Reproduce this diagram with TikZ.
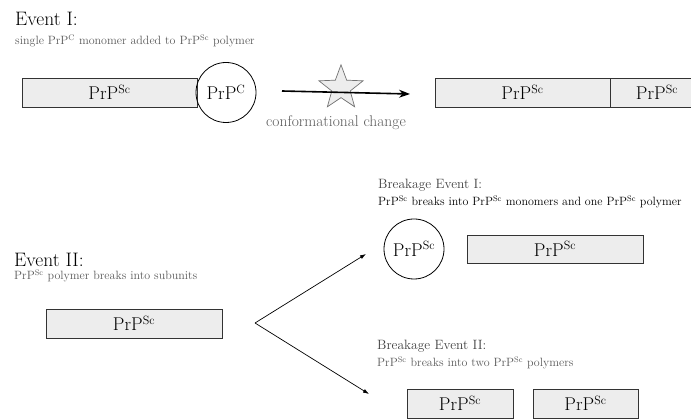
\documentclass[tikz,border=0pt]{standalone}
\usetikzlibrary{shapes.geometric,arrows.meta}
\begin{document}
\begin{tikzpicture}[x=1pt,y=-1pt,
  head/.style={anchor=base west,inner sep=0pt,font=\fontsize{19.5}{22}\selectfont,text=black},
  sub/.style={anchor=base west,inner sep=0pt,font=\fontsize{12}{14}\selectfont,text=black!65},
  bhead/.style={anchor=base west,inner sep=0pt,font=\fontsize{13.5}{16}\selectfont,text=black!75},
  poly/.style={draw=black!80,line width=0.9pt,fill=black!7,rectangle,minimum height=29pt,inner sep=0pt,font=\fontsize{18.5}{22}\selectfont},
  mono/.style={draw=black,line width=0.8pt,circle,minimum size=60pt,inner sep=0pt,font=\fontsize{18.5}{22}\selectfont},
  thinarrow/.style={draw=black,line width=0.7pt,-{Latex[length=6pt,width=4pt]}}
]
\useasboundingbox (0,0) rectangle (691,419);
% Event I
\node[head] (evI) at (15,26) {Event I:};
\node[sub] (evIsub) at (15,45) {single PrP$^{\mathrm{C}}$ monomer added to PrP$^{\mathrm{Sc}}$ polymer};
\node[poly,minimum width=175pt] (boxA) at (109.5,92.5) {PrP$^{\mathrm{Sc}}$};
\node[mono] (circC) at (226,92.5) {PrP$^{\mathrm{C}}$};
\node[star,star points=5,star point ratio=2.4,minimum size=46.4pt,inner sep=0pt,draw=black!55,fill=black!7,line width=0.7pt] (st) at (341,88) {};
\coordinate (arrS) at (282,91);
\coordinate (arrE) at (410,94);
\draw[line width=1.6pt,-{Stealth[length=11pt,width=8pt]}] (arrS) -- (arrE);
\node[anchor=base,inner sep=0pt,font=\fontsize{15.5}{18}\selectfont,text=black!65] (conf) at (336,127) {conformational change};
\node[poly,minimum width=175pt] (boxB) at (522.5,92.5) {PrP$^{\mathrm{Sc}}$};
\node[poly,minimum width=94pt] (boxC) at (657,92.5) {PrP$^{\mathrm{Sc}}$};
% Event II
\node[head] (evII) at (14,267) {Event II:};
\node[sub] (evIIsub) at (14,280) {PrP$^{\mathrm{Sc}}$ polymer breaks into subunits};
\node[poly,minimum width=176pt] (boxD) at (134,323.5) {PrP$^{\mathrm{Sc}}$};
\coordinate (split) at (255,323);
\coordinate (endI) at (366,254);
\coordinate (endII) at (369,394);
\draw[thinarrow] (split) -- (endI);
\draw[thinarrow] (split) -- (endII);
% Breakage Event I
\node[bhead] (bkI) at (378,189) {Breakage Event I:};
\node[sub,text=black] (bkIsub) at (378,206) {PrP$^{\mathrm{Sc}}$ breaks into PrP$^{\mathrm{Sc}}$ monomers and one PrP$^{\mathrm{Sc}}$ polymer};
\node[mono] (circSc) at (414,249) {PrP$^{\mathrm{Sc}}$};
\node[poly,minimum width=176pt,minimum height=28pt] (boxE) at (555,249) {PrP$^{\mathrm{Sc}}$};
% Breakage Event II
\node[bhead] (bkII) at (377,350) {Breakage Event II:};
\node[sub] (bkIIsub) at (377,367) {PrP$^{\mathrm{Sc}}$ breaks into two PrP$^{\mathrm{Sc}}$ polymers};
\node[poly,minimum width=106pt] (boxF) at (460,403.5) {PrP$^{\mathrm{Sc}}$};
\node[poly,minimum width=105pt] (boxG) at (585.5,403.5) {PrP$^{\mathrm{Sc}}$};
\end{tikzpicture}
\end{document}
